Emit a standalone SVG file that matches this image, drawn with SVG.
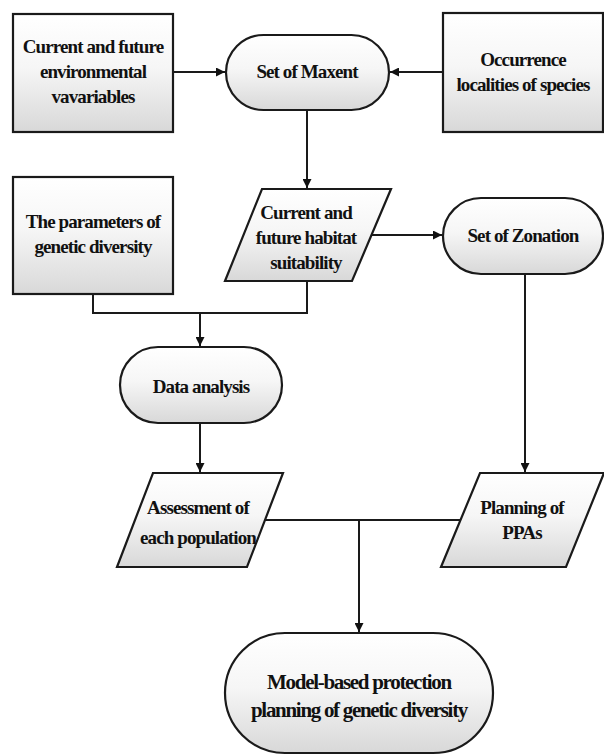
<svg xmlns="http://www.w3.org/2000/svg" width="604" height="755" viewBox="0 0 604 755">
<defs>
<linearGradient id="g" x1="0" y1="0" x2="0" y2="1">
<stop offset="0" stop-color="#ffffff"/>
<stop offset="0.45" stop-color="#f6f6f6"/>
<stop offset="1" stop-color="#d8d8d8"/>
</linearGradient>
<marker id="a" viewBox="0 0 10 10" refX="10" refY="5" markerWidth="9" markerHeight="9" markerUnits="userSpaceOnUse" orient="auto">
<path d="M0,0 L10,5 L0,10 Z" fill="#111"/>
</marker>
</defs>
<style>
.n{fill:url(#g);stroke:#1a1a1a;stroke-width:2.2}
.t{font-family:"Liberation Serif","Times New Roman",serif;font-weight:bold;font-size:19px;fill:#111;text-anchor:middle;letter-spacing:-0.9px}
.b{font-size:21px;letter-spacing:-1.3px}
.c{fill:none;stroke:#1a1a1a;stroke-width:2}
</style>
<rect width="604" height="755" fill="#fff"/>
<g id="connectors">
<line class="c" x1="173" y1="72" x2="225" y2="72" marker-end="url(#a)"/>
<line class="c" x1="443" y1="72" x2="390" y2="72" marker-end="url(#a)"/>
<line class="c" x1="307" y1="110" x2="307" y2="188" marker-end="url(#a)"/>
<polyline class="c" points="93,294 93,313 307,313 307,281"/>
<line class="c" x1="200" y1="313" x2="200" y2="346" marker-end="url(#a)"/>
<line class="c" x1="371" y1="235" x2="442" y2="235" marker-end="url(#a)"/>
<line class="c" x1="525" y1="274" x2="525" y2="472" marker-end="url(#a)"/>
<line class="c" x1="200" y1="423" x2="200" y2="472" marker-end="url(#a)"/>
<line class="c" x1="264" y1="520" x2="460" y2="520"/>
<line class="c" x1="359" y1="520" x2="359" y2="632" marker-end="url(#a)"/>
</g>
<g id="env">
<rect class="n" x="13" y="14" width="160" height="118"/>
<text class="t" x="93" y="53">Current and future</text>
<text class="t" x="93" y="78">environmental</text>
<text class="t" x="93" y="103">vavariables</text>
</g>
<g id="maxent">
<rect class="n" x="226" y="35" width="163" height="75" rx="37.5"/>
<text class="t" x="307" y="78">Set of Maxent</text>
</g>
<g id="occurrence">
<rect class="n" x="443" y="13" width="160" height="119"/>
<text class="t" x="523" y="66">Occurrence</text>
<text class="t" x="523" y="91">localities of species</text>
</g>
<g id="params">
<rect class="n" x="13" y="177" width="160" height="117"/>
<text class="t" x="93" y="228">The parameters of</text>
<text class="t" x="93" y="253">genetic diversity</text>
</g>
<g id="habitat">
<polygon class="n" points="262,189 391,189 352,281 225,281"/>
<text class="t" x="306" y="219">Current and</text>
<text class="t" x="306" y="244">future habitat</text>
<text class="t" x="306" y="269">suitability</text>
</g>
<g id="zonation">
<rect class="n" x="443" y="198" width="160" height="76" rx="38"/>
<text class="t" x="523" y="242">Set of Zonation</text>
</g>
<g id="data">
<rect class="n" x="120" y="347" width="162" height="76" rx="38"/>
<text class="t" x="201" y="393">Data analysis</text>
</g>
<g id="assessment">
<polygon class="n" points="153,473 283,473 247,567 117,567"/>
<text class="t" x="198" y="514">Assessment of</text>
<text class="t" x="198" y="544">each population</text>
</g>
<g id="planning">
<polygon class="n" points="480,473 604,473 566,567 441,567"/>
<text class="t" x="522" y="514">Planning of</text>
<text class="t" x="522" y="539">PPAs</text>
</g>
<g id="final">
<rect class="n" x="225" y="633" width="268" height="120" rx="60"/>
<text class="t b" x="359" y="689">Model-based protection</text>
<text class="t b" x="359" y="717">planning of genetic diversity</text>
</g>
</svg>
